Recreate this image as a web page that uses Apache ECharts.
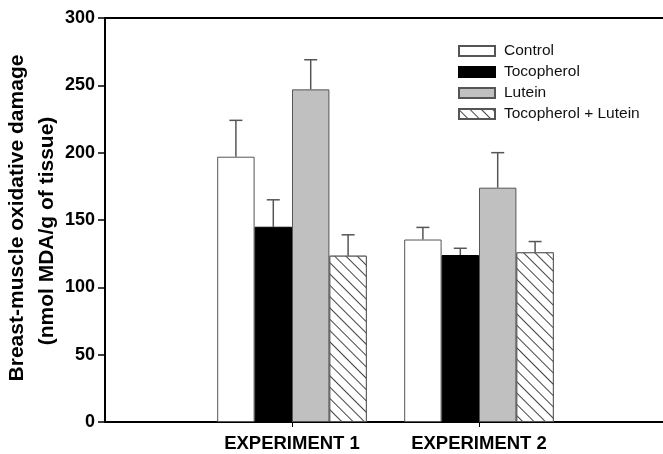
<!DOCTYPE html>
<html>
<head>
<meta charset="utf-8">
<script src="https://cdn.jsdelivr.net/npm/echarts@6/dist/echarts.min.js"></script>
<style>
html,body{margin:0;padding:0;background:#fff;}
#chart{width:663px;height:454px;}
</style>
</head>
<body>
<div id="chart"></div>
<script>
// ---- data ----
const categories = ['', 'EXPERIMENT 1', 'EXPERIMENT 2', ''];
const seriesNames = ['Control', 'Tocopherol', 'Lutein', 'Tocopherol + Lutein'];
const controlMean = [197, 135.5];
const tocopherolMean = [145, 124];
const luteinMean = [247, 174];
const tocoLuteinMean = [123.5, 126];
const controlErr = [27, 9];
const tocopherolErr = [20, 5];
const luteinErr = [22, 26];
const tocoLuteinErr = [15.5, 8];
const yTicks = [0, 50, 100, 150, 200, 250, 300];

const means = [controlMean, tocopherolMean, luteinMean, tocoLuteinMean];
const errs = [controlErr, tocopherolErr, luteinErr, tocoLuteinErr];

const FONT = '"Liberation Sans", Arial, sans-serif';
const chart = echarts.init(document.getElementById('chart'), null, {renderer: 'canvas'});

const styles = [
  {color: '#ffffff', borderColor: '#555', borderWidth: 1},
  {color: '#000000', borderColor: '#000', borderWidth: 1},
  {color: '#c0c0c0', borderColor: '#555', borderWidth: 1},
  {color: '#ffffff', borderColor: '#555', borderWidth: 1,
   decal: {symbol: 'rect', symbolSize: 1, dashArrayX: [1, 0], dashArrayY: [1, 7], rotation: Math.PI / 4, color: '#444', backgroundColor: '#ffffff'}}
];

const barSeries = seriesNames.map((name, k) => ({
  name: name,
  type: 'bar',
  barGap: '0%',
  barCategoryGap: '20%',
  itemStyle: styles[k],
  emphasis: {disabled: true},
  data: ['-', means[k][0], means[k][1], '-']
}));

const errData = [];
for (let k = 0; k < 4; k++) {
  for (let c = 0; c < 2; c++) {
    errData.push([c + 1, means[k][c], means[k][c] + errs[k][c], k]);
  }
}

const errSeries = {
  type: 'custom',
  name: 'err',
  encode: {x: 0, y: [1, 2]},
  data: errData,
  z: 1,
  renderItem: function (params, api) {
    const cat = api.value(0);
    const v = api.value(1);
    const hi = api.value(2);
    const k = api.value(3);
    const base = api.coord([cat, v]);
    const top = api.coord([cat, hi]);
    const band = api.size([1, 0])[0];
    const bw = band * 0.8 / 4;
    const x = base[0] + (k - 1.5) * bw;
    const half = 6.5;
    const st = {stroke: '#555', lineWidth: 1.5};
    return {
      type: 'group',
      children: [
        {type: 'line', shape: {x1: x, y1: base[1], x2: x, y2: top[1]}, style: st},
        {type: 'line', shape: {x1: x - half, y1: top[1], x2: x + half, y2: top[1]}, style: st}
      ]
    };
  }
};

chart.setOption({
  backgroundColor: '#ffffff',
  animation: false,
  grid: {left: 105, right: -3, top: 18, bottom: 32, containLabel: false, outerBoundsMode: 'none'},
  legend: {
    data: seriesNames,
    orient: 'vertical',
    left: 453,
    top: 38,
    itemWidth: 36,
    itemHeight: 10,
    itemGap: 5,
    icon: 'rect',
    selectedMode: false,
    textStyle: {fontFamily: FONT, fontSize: 15.5, color: '#111', padding: [0, 0, 0, 4], lineHeight: 16}
  },
  xAxis: [{
    type: 'category',
    data: categories,
    boundaryGap: false,
    axisLine: {lineStyle: {color: '#000', width: 2}},
    axisTick: {show: true, length: 5, interval: function (i) { return i === 1 || i === 2; }, lineStyle: {color: '#000', width: 1}},
    axisLabel: {interval: 0, margin: 12, fontFamily: FONT, fontSize: 18.5, fontWeight: 'bold', color: '#000'},
    splitLine: {show: false}
  }, {
    type: 'category',
    data: categories,
    position: 'top',
    boundaryGap: false,
    axisLine: {lineStyle: {color: '#000', width: 2}},
    axisTick: {show: false},
    axisLabel: {show: false},
    splitLine: {show: false}
  }],
  yAxis: {
    type: 'value',
    min: yTicks[0],
    max: yTicks[yTicks.length - 1],
    interval: 50,
    axisLine: {show: true, lineStyle: {color: '#000', width: 2}},
    axisTick: {show: true, length: 7, lineStyle: {color: '#000', width: 1.5}},
    axisLabel: {margin: 10, fontFamily: FONT, fontSize: 18, fontWeight: 'bold', color: '#000'},
    splitLine: {show: false}
  },
  graphic: [
    {type: 'text', x: 17.5, y: 218, rotation: Math.PI / 2,
     style: {text: 'Breast-muscle oxidative damage', font: 'bold 21px ' + FONT, fill: '#000', align: 'center', verticalAlign: 'middle'}},
    {type: 'text', x: 47, y: 231, rotation: Math.PI / 2,
     style: {text: '(nmol MDA/g of tissue)', font: 'bold 21px ' + FONT, fill: '#000', align: 'center', verticalAlign: 'middle'}}
  ],
  series: barSeries.concat([errSeries])
});
</script>
</body>
</html>
